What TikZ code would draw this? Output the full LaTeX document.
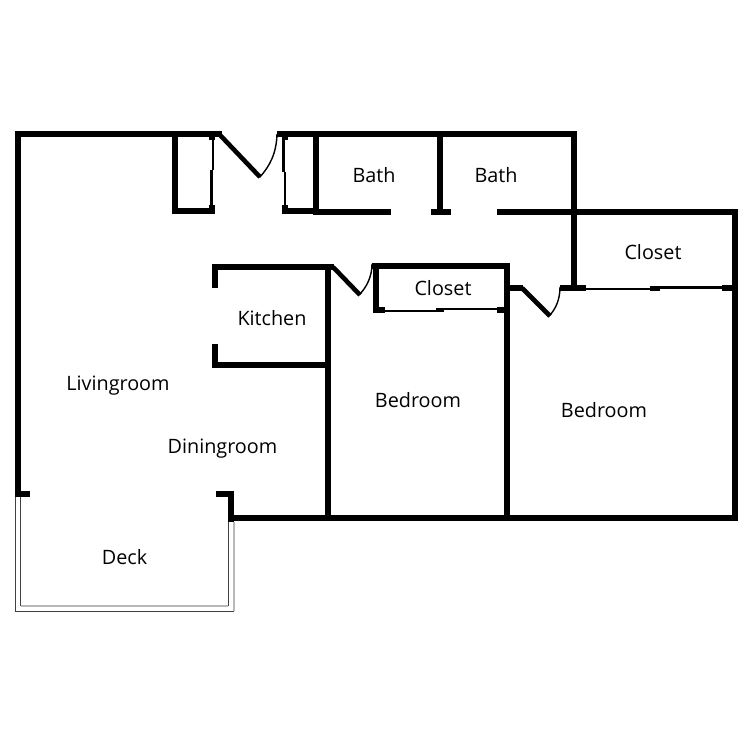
\documentclass[tikz,border=0pt]{standalone}
\usepackage{fontspec}
\setmainfont{Open Sans}
\tikzset{
  wall/.style={line width=6pt,line cap=butt,line join=miter,black},
  leaf/.style={line width=4.6pt,black},
  thin/.style={line width=1.4pt,black},
  slide/.style={line width=2.6pt,black},
  deckdark/.style={line width=1pt,black!75},
  decklight/.style={line width=1.6pt,black!28},
  room/.style={font=\fontsize{19.8}{21}\selectfont,text=black,inner sep=0pt}
}
\begin{document}
\begin{tikzpicture}[x=1pt,y=-1pt]
\useasboundingbox (0,0) rectangle (750,750);
\fill[white] (0,0) rectangle (750,750);
% deck
\draw[deckdark] (15.5,497) -- (15.5,611) -- (234,611);
\draw[decklight] (234,611) -- (234,522);
\draw[deckdark] (20.7,497) -- (20.7,606);
\draw[decklight] (20.7,606) -- (228,606);
\draw[deckdark] (228,606) -- (228,522);
% outer walls
\draw[wall] (222,134) -- (18,134) -- (18,497);
\draw[wall] (18,494) -- (30,494);
\draw[wall] (216,494) -- (231,494) -- (231,522);
\draw[wall] (228,518) -- (737,518);
\draw[wall] (277,134) -- (574,134) -- (574,291);
\draw[wall] (571,212) -- (734.5,212) -- (734.5,521);
% front closets
\draw[wall] (175,134) -- (175,211) -- (215,211);
\draw[wall] (212,205) -- (212,214);
\draw[wall] (212,134) -- (212,140);
\draw[wall] (316,134) -- (316,215);
\draw[wall] (282,211) -- (316,211);
\draw[wall] (285,205) -- (285,214);
\draw[wall] (285,134) -- (285,140);
\draw[slide] (213,137) -- (213,170);
\draw[slide] (211.2,170) -- (211.2,205);
\draw[slide] (283.5,137) -- (283.5,172);
\draw[slide] (285,172) -- (285,205);
% baths
\draw[wall] (316,212) -- (391,212);
\draw[wall] (431,212) -- (451,212);
\draw[wall] (440,134) -- (440,212);
\draw[wall] (497,212) -- (574,212);
% kitchen
\draw[wall] (215,288) -- (215,266.5) -- (334,266.5);
\draw[wall] (215,344) -- (215,365) -- (331,365);
\draw[wall] (328,264) -- (328,518);
% middle closet
\draw[wall] (372,266) -- (510,266);
\draw[wall] (507,263) -- (507,521);
\draw[wall] (376,266) -- (376,313);
\draw[wall] (373,310) -- (385,310);
\draw[wall] (497,310) -- (510,310);
\draw[slide] (385,311) -- (440,311);
\draw[wall,line width=3.5pt] (436,310) -- (444,310);
\draw[slide] (440,309) -- (497,309);
% right closet
\draw[wall] (504,288) -- (523,288);
\draw[wall] (560,288) -- (586,288);
\draw[slide] (586,288.8) -- (655,288.8);
\draw[wall,line width=5pt] (650,288) -- (660,288);
\draw[slide] (655,287.2) -- (722,287.2);
\draw[wall] (722,288) -- (734,288);
% door leaves and swings
\draw[leaf] (220,135) -- (260,177);
\draw[thin] (259.5,177.5) .. controls (270,166) and (276.5,153) .. (277,134);
\draw[leaf] (333,267) -- (360,295);
\draw[thin] (359,295) .. controls (367,287) and (372,276) .. (372,264);
\draw[leaf] (522,288) -- (550,316);
\draw[thin] (549,316) .. controls (556,309) and (560,299) .. (560,287);
% labels
\node[room] (bath1) at (374,175.5) {Bath};
\node[room] (bath2) at (496,175) {Bath};
\node[room] (closet1) at (653,252.5) {Closet};
\node[room] (closet2) at (443,288.5) {Closet};
\node[room] (kitchen) at (272,318.5) {Kitchen};
\node[room] (living) at (118,386) {Livingroom};
\node[room] (bed1) at (418,400.5) {Bedroom};
\node[room] (bed2) at (604,410.5) {Bedroom};
\node[room] (dining) at (222.5,448.5) {Diningroom};
\node[room] (deck) at (124.5,557.5) {Deck};
\end{tikzpicture}
\end{document}
